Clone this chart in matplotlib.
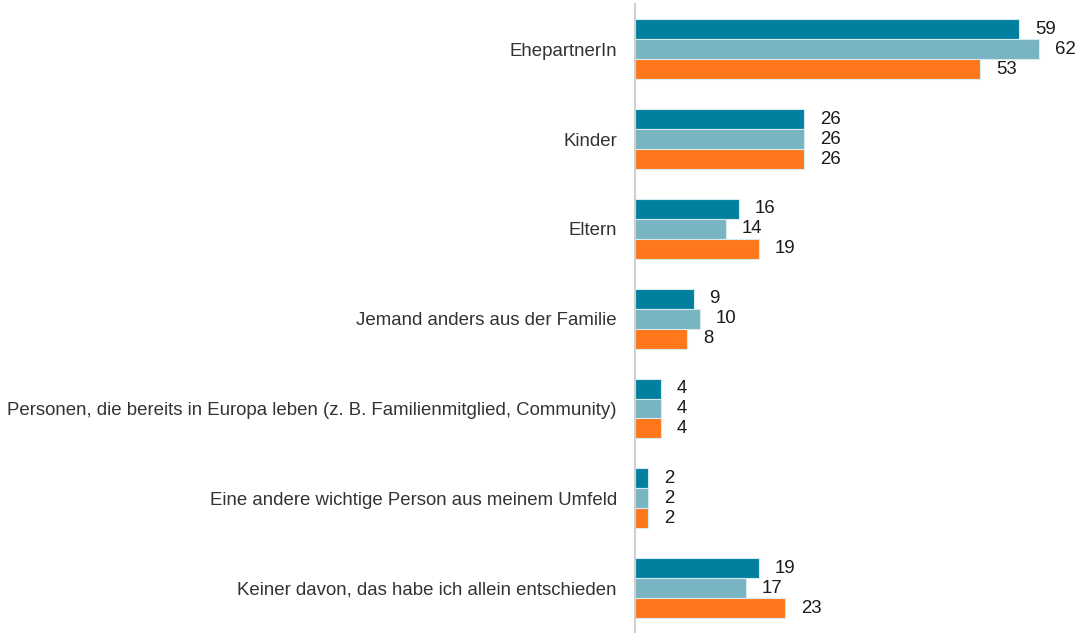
import numpy as np
import matplotlib.pyplot as plt

plt.rcParams['font.family'] = ['Liberation Sans', 'DejaVu Sans']

categories = [
    "EhepartnerIn",
    "Kinder",
    "Eltern",
    "Jemand anders aus der Familie",
    "Personen, die bereits in Europa leben (z. B. Familienmitglied, Community)",
    "Eine andere wichtige Person aus meinem Umfeld",
    "Keiner davon, das habe ich allein entschieden",
]
series_a = [59, 26, 16, 9, 4, 2, 19]
series_b = [62, 26, 14, 10, 4, 2, 17]
series_c = [53, 26, 19, 8, 4, 2, 23]

colors = ["#007f9f", "#78b4c2", "#ff771a"]

fig = plt.figure(figsize=(10.77, 6.33), dpi=100)
ax = fig.add_axes([0.5896, 0.0, 0.4104, 0.993])

y = np.arange(len(categories))
h = 2 / 9
for k, (vals, col) in enumerate(zip([series_a, series_b, series_c], colors)):
    pos = y + (k - 1) * h
    ax.barh(pos, vals, height=h, color=col, edgecolor="#d6eaf0", linewidth=0.8)
    for p, v in zip(pos, vals):
        ax.annotate(str(v), (v, p), xytext=(11.5, 0), textcoords="offset points",
                    ha="left", va="center", fontsize=13.4, color="#1a1a1a")

ax.set_xlim(0, 67.9)
ax.set_ylim(len(categories) - 0.5, -0.5)
ax.set_yticks(y)
ax.set_yticklabels(categories, fontsize=13.4, color="#333333")
ax.tick_params(axis="y", length=0, pad=13)
ax.set_xticks([])
for s in ["top", "right", "bottom"]:
    ax.spines[s].set_visible(False)
ax.spines["left"].set_color("#d0d0d0")
ax.spines["left"].set_linewidth(1.5)

fig.savefig("out.png", dpi=100)
